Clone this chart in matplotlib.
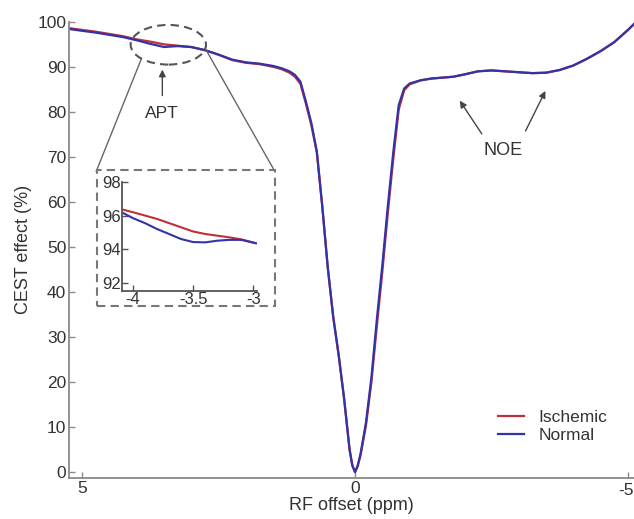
"""Z-spectrum (CEST effect) of ischemic vs normal tissue, with APT inset."""
import numpy as np
import matplotlib
matplotlib.use("Agg")
import matplotlib.pyplot as plt
from matplotlib.patches import Ellipse, Rectangle

plt.rcParams["font.family"] = ["Liberation Sans", "DejaVu Sans"]
plt.rcParams["text.color"] = "#333333"
plt.rcParams["axes.labelcolor"] = "#333333"
plt.rcParams["xtick.color"] = "#333333"
plt.rcParams["ytick.color"] = "#333333"

# -------------------------------------------------------
# Data.
# -------------------------------------------------------
offset_ppm = [
    5.24, 5.0, 4.75, 4.5, 4.25, 4.0, 3.75, 3.5, 3.25, 3.0,
    2.75, 2.5, 2.25, 2.0, 1.75, 1.5, 1.35, 1.2, 1.1, 1.0,
    0.9, 0.8, 0.7, 0.6, 0.5, 0.4, 0.3, 0.2, 0.1, 0.05,
    0.0, -0.05, -0.1, -0.2, -0.3, -0.4, -0.5, -0.6, -0.7, -0.8,
    -0.9, -1.0, -1.2, -1.4, -1.6, -1.8, -2.0, -2.25, -2.5, -2.75,
    -3.0, -3.25, -3.5, -3.75, -4.0, -4.25, -4.5, -4.75, -5.0, -5.11,
    ]
normal = [
    98.4, 98.0, 97.6, 97.1, 96.6, 95.9, 95.1, 94.4, 94.6, 94.4,
    93.7, 92.7, 91.6, 91.0, 90.7, 90.2, 89.7, 89.0, 88.2, 86.7,
    82.3, 77.5, 71.2, 59.0, 45.5, 34.5, 26.0, 16.3, 5.0, 1.5,
    0.0, 1.5, 4.0, 11.0, 21.0, 34.0, 46.0, 59.0, 71.0, 81.5,
    85.2, 86.3, 87.0, 87.4, 87.6, 87.8, 88.3, 89.0, 89.2, 89.0,
    88.8, 88.6, 88.7, 89.3, 90.3, 91.8, 93.5, 95.5, 98.2, 99.5,
    ]
ischemic = [
    98.6, 98.2, 97.8, 97.3, 96.8, 96.1, 95.6, 95.0, 94.7, 94.4,
    93.7, 92.7, 91.5, 90.9, 90.6, 90.0, 89.5, 88.7, 87.8, 86.2,
    81.8, 77.0, 71.0, 59.0, 45.5, 34.5, 26.0, 16.3, 5.0, 1.5,
    0.0, 1.4, 3.7, 10.3, 20.0, 32.5, 44.5, 57.5, 69.5, 80.5,
    84.8, 86.1, 87.0, 87.4, 87.6, 87.8, 88.3, 89.0, 89.2, 89.0,
    88.8, 88.6, 88.7, 89.3, 90.3, 91.8, 93.5, 95.5, 98.2, 99.5,
    ]
x_ticks = [5, 0, -5]
x_ticklabels = ["5", "0", "-5"]

# APT zoom (inset):
inset_ppm = [-4.08, -4.0, -3.9, -3.8, -3.7, -3.6, -3.5, -3.4, -3.3, -3.2, -3.1, -2.98]
inset_normal = [96.15, 95.85, 95.55, 95.2, 94.9, 94.6, 94.42, 94.4, 94.5, 94.55, 94.55, 94.35]
inset_ischemic = [96.35, 96.2, 96.0, 95.8, 95.55, 95.3, 95.05, 94.9, 94.8, 94.7, 94.58, 94.35]

red = "#c0303a"
blue = "#3333a8"
gray = "#8a8a8a"

# -------------------------------------------------------
# Plot.
# -------------------------------------------------------
fig = plt.figure(figsize=(6.34, 5.19), dpi=100)
ax = fig.add_axes([0.1088, 0.079, 0.8912, 0.879])
ax.plot(offset_ppm, ischemic, color=red, lw=1.6, label="Ischemic")
ax.plot(offset_ppm, normal, color=blue, lw=1.6, label="Normal")
ax.set_xlim(5.24, -5.11)
ax.set_ylim(-1.3, 100)
ax.set_xticks(x_ticks)
# last label sits at the right edge, drawn by hand so it is not cut:
ax.set_xticklabels(x_ticklabels[:-1] + [""])
ax.annotate(
    x_ticklabels[-1],
    xy=(x_ticks[-1], 0),
    xycoords=("data", "axes fraction"),
    xytext=(4, -3.5),
    textcoords="offset points",
    ha="right",
    va="top",
    fontsize=12.5,
    )
ax.set_yticks(np.arange(0, 101, 10))
for side in ["top", "right"]:
    ax.spines[side].set_visible(False)
for side in ["left", "bottom"]:
    ax.spines[side].set_color(gray)
    ax.spines[side].set_linewidth(1.3)
ax.tick_params(direction="in", length=4, width=1, colors=gray,
               labelcolor="#333333", labelsize=12.5, pad=2)
ax.set_xlabel("RF offset (ppm)", fontsize=13, labelpad=1)
ax.set_ylabel("CEST effect (%)", fontsize=13, labelpad=4)
ax.legend(
    loc="lower right",
    bbox_to_anchor=(0.98, 0.043),
    frameon=False,
    fontsize=12.5,
    handlelength=1.5,
    handletextpad=0.8,
    labelspacing=0.15,
    )

# APT ellipse + arrow:
ax.add_patch(Ellipse((3.42, 94.9), 1.38, 8.8, fill=False,
                     ls=(0, (4, 2.5)), lw=1.5, color="#555555"))
ax.annotate("", xy=(3.53, 90.0), xytext=(3.53, 83.0),
            arrowprops=dict(arrowstyle="-|>", color="#444444", lw=1,
                            mutation_scale=10))
ax.text(3.53, 79.6, "APT", ha="center", va="center", fontsize=12.5)

# NOE arrows:
ax.annotate("", xy=(-1.89, 83.0), xytext=(-2.35, 74.6),
            arrowprops=dict(arrowstyle="-|>", color="#444444", lw=1,
                            mutation_scale=10))
ax.annotate("", xy=(-3.51, 85.2), xytext=(-3.10, 75.2),
            arrowprops=dict(arrowstyle="-|>", color="#444444", lw=1,
                            mutation_scale=10))
ax.text(-2.72, 71.5, "NOE", ha="center", va="center", fontsize=13)

# lines from ellipse to inset box:
ax.plot([3.92, 4.74], [91.6, 66.8], color="#666666", lw=1, clip_on=False)
ax.plot([2.74, 1.47], [94.0, 66.8], color="#666666", lw=1, clip_on=False)

# dashed box round the inset:
fig.patches.append(Rectangle((0.153, 0.410), 0.281, 0.262,
                             transform=fig.transFigure, fill=False,
                             ls=(0, (4, 2.5)), lw=1.5, color="#777777"))

# inset:
ins = fig.add_axes([0.1924, 0.4393, 0.2130, 0.2100])
ins.plot(inset_ppm, inset_ischemic, color=red, lw=1.5)
ins.plot(inset_ppm, inset_normal, color=blue, lw=1.5)
ins.set_xlim(-4.09, -2.97)
ins.set_ylim(91.5, 98)
ins.set_xticks([-4, -3.5, -3])
ins.set_xticklabels(["-4", "-3.5", "-3"])
ins.set_yticks([92, 94, 96, 98])
ins.patch.set_alpha(0)
for side in ["top", "right"]:
    ins.spines[side].set_visible(False)
for side in ["left", "bottom"]:
    ins.spines[side].set_color("#555555")
    ins.spines[side].set_linewidth(1.3)
ins.tick_params(direction="in", length=4, width=1, colors="#555555",
                labelcolor="#333333", labelsize=12, pad=1)

fig.savefig("out.png", dpi=100)
